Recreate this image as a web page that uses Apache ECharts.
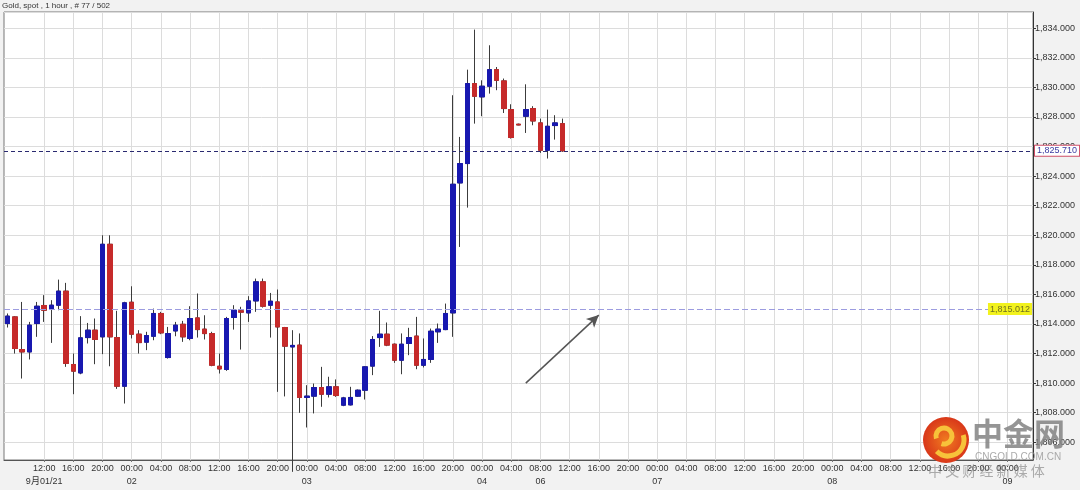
<!DOCTYPE html>
<html><head><meta charset="utf-8">
<script src="https://cdn.jsdelivr.net/npm/echarts@6/dist/echarts.min.js"></script>
<style>html,body{margin:0;padding:0;background:#f2f2f2;}#c{width:1080px;height:490px;}</style>
</head><body><div id="c"></div>
<script>
// ---- data (hourly candles, slot index = position on the time axis) ----
const opens = [1814.03,1814.48,1812.27,1812.11,1814.03,1815.25,1815.04,1815.27,1816.22,1811.26,
1810.69,1813.08,1813.58,1813.13,1819.39,1813.08,1809.79,1815.47,1813.31,1812.77,
1813.17,1814.71,1811.73,1813.53,1813.98,1813.02,1814.41,1813.65,1813.35,1811.14,
1810.92,1814.44,1814.89,1814.75,1815.56,1816.85,1815.27,1815.49,1813.76,1812.45,
1812.57,1809.03,1809.12,1809.70,1809.25,1809.75,1808.51,1808.53,1809.12,1809.52,
1811.15,1813.08,1813.31,1812.63,1811.55,1812.68,1813.18,1811.21,1811.60,1813.47,
1813.62,1814.75,1823.54,1824.85,1830.26,1829.36,1830.08,1831.20,1830.44,1828.50,
1827.51,1828.05,1828.57,1827.60,1825.75,1827.42,1827.55];
const closes = [1814.53,1812.34,1812.11,1813.92,1815.20,1814.93,1815.27,1816.22,1811.33,1810.81,
1813.06,1813.58,1812.95,1819.39,1813.13,1809.79,1815.43,1813.31,1812.74,1813.22,
1814.71,1813.40,1813.35,1813.92,1813.13,1814.37,1813.62,1813.35,1811.21,1810.96,
1814.37,1814.93,1814.80,1815.56,1816.85,1815.20,1815.54,1813.80,1812.50,1812.55,
1809.03,1809.12,1809.70,1809.25,1809.75,1809.16,1809.00,1809.03,1809.52,1811.10,
1812.95,1813.31,1812.57,1811.55,1812.63,1813.08,1811.21,1811.60,1813.51,1813.65,
1814.71,1823.45,1824.85,1830.26,1829.40,1830.08,1831.20,1830.48,1828.57,1826.61,
1827.46,1828.50,1827.73,1825.75,1827.37,1827.60,1825.71];
const lows = [1813.76,1812.00,1810.31,1811.60,1813.13,1814.14,1812.72,1814.93,1811.10,1809.25,
1810.60,1812.68,1811.28,1811.96,1811.14,1809.61,1808.62,1813.02,1812.00,1812.23,
1812.90,1813.31,1811.66,1813.17,1812.79,1812.90,1813.08,1812.95,1811.14,1810.65,
1810.83,1813.62,1812.27,1814.14,1814.82,1815.11,1813.08,1809.41,1809.10,1804.00,
1807.99,1807.00,1807.95,1808.40,1809.03,1809.07,1808.44,1808.49,1809.07,1808.89,
1810.54,1812.45,1812.50,1811.37,1810.60,1811.89,1810.94,1811.06,1811.37,1812.72,
1813.58,1813.13,1819.21,1821.87,1827.55,1828.05,1829.58,1829.81,1828.27,1826.54,
1827.44,1826.92,1827.44,1825.57,1825.19,1826.47,1825.64];
const highs = [1814.71,1814.53,1815.49,1814.14,1815.49,1815.95,1815.61,1817.00,1816.78,1812.00,
1814.53,1814.07,1814.37,1820.00,1820.00,1814.89,1815.50,1816.55,1813.58,1813.47,
1815.04,1814.82,1813.80,1814.14,1814.21,1815.20,1816.06,1814.59,1813.47,1812.00,
1814.48,1815.27,1815.16,1815.88,1817.07,1817.07,1816.10,1816.33,1813.80,1813.58,
1813.36,1809.86,1809.97,1811.10,1810.43,1810.25,1809.07,1809.75,1809.57,1811.15,
1813.18,1814.89,1814.10,1812.68,1813.36,1813.74,1814.48,1813.02,1813.69,1814.03,
1815.38,1829.47,1826.65,1831.20,1833.91,1830.48,1832.85,1831.38,1830.60,1828.86,
1827.55,1830.21,1828.73,1827.89,1828.50,1828.12,1827.89];
// axis tick labels (one every 4 hourly slots, first at slot 5)
const tickTimes = ['12:00','16:00','20:00',
 '00:00','04:00','08:00','12:00','16:00','20:00',
 '00:00','04:00','08:00','12:00','16:00','20:00',
 '00:00','04:00',
 '08:00','12:00','16:00','20:00',
 '00:00','04:00','08:00','12:00','16:00','20:00',
 '00:00','04:00','08:00','12:00','16:00','20:00',
 '00:00'];
const tickDays = ['9月01/21','','', '02','','','','','', '03','','','','','', '04','', '06','','','', '07','','','','','', '08','','','','','', '09'];
const slotCount = 141, firstTick = 5, tickStep = 4;
const lastPrice = 1825.71, levelPrice = 1815.012;
const arrowFrom = [71, 1810.0], arrowTo = [81, 1814.6];
const title = 'Gold, spot , 1 hour , # 77 / 502';

const cats = Array.from({length: slotCount}, (_, i) => String(i));
const isTick = i => i >= firstTick && (i - firstTick) % tickStep === 0;
const tickIdx = i => (i - firstTick) / tickStep;
const isDay = i => isTick(i) && !!tickDays[tickIdx(i)];
const fmtPrice = v => {
  const s = v.toFixed(3); const [a, b] = s.split('.');
  return a.replace(/\B(?=(\d{3})+(?!\d))/g, ',') + '.' + b;
};
const BLUE = '#1818b0', RED = '#c62a2a', WICK = '#3c3c3c';
const full = opens.map((o, i) => [o, closes[i], lows[i], highs[i]]);
const bodies = opens.map((o, i) => [o, closes[i], Math.min(o, closes[i]), Math.max(o, closes[i])]);
const FONT = '"Liberation Sans", Arial, "Noto Sans CJK SC", sans-serif';

const chart = echarts.init(document.getElementById('c'), null, {renderer: 'canvas'});
chart.setOption({
  animation: false,
  backgroundColor: '#f2f2f2',
  title: {text: title, left: 2, top: 0, padding: [2, 0, 0, 0],
    textStyle: {fontSize: 8, fontWeight: 'normal', color: '#333', fontFamily: FONT}},
  grid: {left: 4, right: 47, top: 12, bottom: 30, show: true, backgroundColor: '#fff',
    borderColor: '#777', borderWidth: 1},
  xAxis: [{
    type: 'category', data: cats, boundaryGap: true,
    axisLine: {lineStyle: {color: '#555', width: 1}},
    axisTick: {show: true, interval: i => isTick(i), alignWithLabel: true, length: 2, lineStyle: {color: '#777'}},
    axisLabel: {interval: i => isTick(i), showMinLabel: true, showMaxLabel: true,
      margin: 4, fontSize: 9, color: '#333', fontFamily: FONT,
      formatter: (v, i) => tickTimes[tickIdx(i)]},
    splitLine: {show: true, interval: i => isTick(i), alignWithLabel: true, lineStyle: {color: '#dcdcdc', width: 1}}
  }, {
    type: 'category', data: cats, boundaryGap: true, position: 'bottom', offset: 13,
    axisLine: {show: false}, axisTick: {show: false}, splitLine: {show: false},
    axisLabel: {interval: i => isDay(i), showMinLabel: true, showMaxLabel: true,
      margin: 4, fontSize: 9, color: '#333', fontFamily: FONT,
      formatter: (v, i) => tickDays[tickIdx(i)]}
  }],
  yAxis: {
    type: 'value', position: 'right', min: 1804.8, max: 1835.1, splitNumber: 15, minInterval: 2, maxInterval: 2,
    axisLine: {show: true, lineStyle: {color: '#333'}},
    axisTick: {show: true, length: 3, lineStyle: {color: '#333'}},
    axisLabel: {margin: 2, fontSize: 9, color: '#333', fontFamily: FONT, showMinLabel: false, showMaxLabel: false,
      formatter: v => fmtPrice(v)},
    splitLine: {show: true, lineStyle: {color: '#dcdcdc', width: 1}}
  },
  series: [
    {type: 'candlestick', xAxisIndex: 0, data: full, barWidth: 5, clip: true,
      itemStyle: {color: BLUE, color0: RED, borderColor: WICK, borderColor0: WICK, borderWidth: 1},
      markLine: {silent: true, symbol: ['none', 'none'], animation: false,
        data: [
          {yAxis: lastPrice, lineStyle: {color: '#2a2a70', type: [4, 3], width: 1},
            label: {show: true, position: 'end', distance: 2, formatter: fmtPrice(lastPrice), fontSize: 9,
              fontFamily: FONT, color: '#3a3aa0', backgroundColor: '#fff', borderColor: '#d0506a', borderWidth: 1, padding: [1, 2, 0, 2]}},
          {yAxis: levelPrice, lineStyle: {color: '#9c9ce0', type: [6, 3], width: 1},
            label: {show: true, position: 'insideEnd', distance: 1, formatter: fmtPrice(levelPrice), fontSize: 9,
              fontFamily: FONT, color: '#707020', backgroundColor: '#f2f21e', padding: [2, 2, 1, 2]}},
          [{coord: arrowFrom, symbol: 'none', lineStyle: {color: '#555', width: 1.5, type: 'solid'}, label: {show: false}},
           {coord: arrowTo, symbol: 'arrow', symbolSize: [9, 12]}]
        ]}
    },
    {type: 'candlestick', xAxisIndex: 0, data: bodies, barWidth: 5, clip: true,
      itemStyle: {color: BLUE, color0: RED, borderColor: BLUE, borderColor0: RED, borderWidth: 1}}
  ],
  graphic: [
    {type: 'circle', shape: {cx: 946, cy: 440, r: 23}, z: 100,
      style: {fill: new echarts.graphic.RadialGradient(0.5, 0.5, 0.6, [{offset: 0, color: '#f07a20'}, {offset: 1, color: '#d42a18'}])}},
    {type: 'arc', shape: {cx: 944, cy: 436, r: 8, startAngle: Math.PI * 0.9, endAngle: Math.PI * 2.6}, z: 101,
      style: {stroke: '#f7c23a', lineWidth: 5, fill: null}},
    {type: 'arc', shape: {cx: 948, cy: 440, r: 16, startAngle: -Math.PI * 0.1, endAngle: Math.PI * 0.75}, z: 101,
      style: {stroke: '#f7c23a', lineWidth: 5, fill: null}},
    {type: 'text', left: 972, top: 418, z: 100,
      style: {text: '中金网', fontSize: 31, fontWeight: 'bold', fill: 'rgba(130,130,130,0.85)', fontFamily: '"Noto Sans CJK SC", sans-serif'}},
    {type: 'text', left: 975, top: 452, z: 100,
      style: {text: 'CNGOLD.COM.CN', fontSize: 10, fill: 'rgba(150,150,150,0.8)', fontFamily: FONT}},
    {type: 'text', left: 928, top: 464, z: 100,
      style: {text: '中 文 财 经 新 媒 体', fontSize: 14, fill: 'rgba(140,140,140,0.7)', fontFamily: '"Noto Sans CJK SC", sans-serif'}}
  ]
});
</script></body></html>
